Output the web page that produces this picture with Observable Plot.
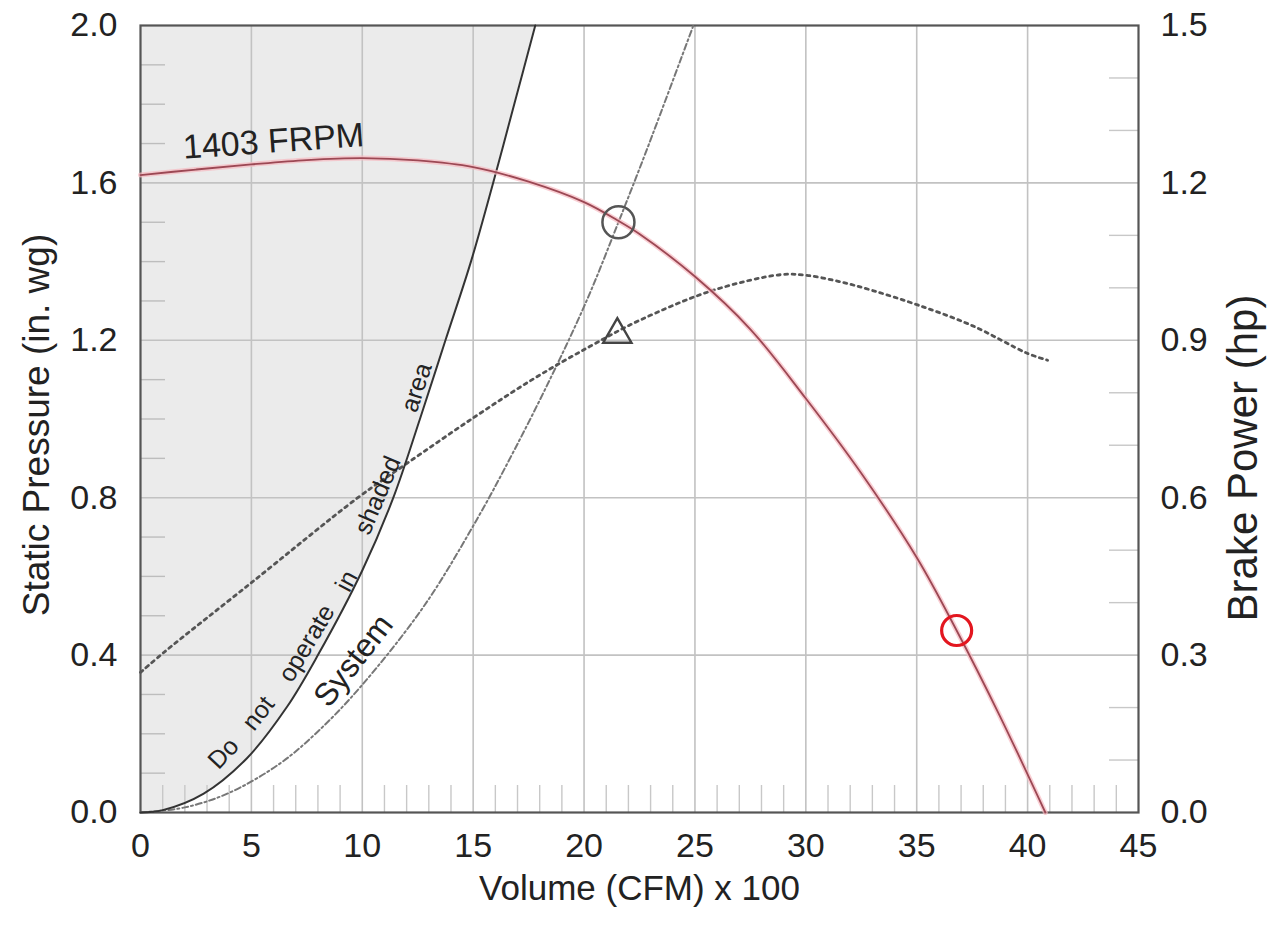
<!DOCTYPE html>
<html>
<head>
<meta charset="utf-8">
<script src="https://cdn.jsdelivr.net/npm/d3@7"></script>
<script src="https://cdn.jsdelivr.net/npm/@observablehq/plot@0.6"></script>
<style>
  html, body { margin: 0; padding: 0; background: #fff; }
  #chart { width: 1281px; height: 926px; }
</style>
</head>
<body>
<div id="chart"></div>
<script>
// ---- tick values & labels ----
const xTicks = [0, 5, 10, 15, 20, 25, 30, 35, 40, 45];
const xTickLabels = ["0", "5", "10", "15", "20", "25", "30", "35", "40", "45"];
const xGrid = [5, 10, 15, 20, 25, 30, 35, 40];
const xMinor = [1,2,3,4,6,7,8,9,11,12,13,14,16,17,18,19,21,22,23,24,26,27,28,29,31,32,33,34,36,37,38,39,41,42,43,44];

const pTicks = [0, 0.4, 0.8, 1.2, 1.6, 2.0];
const pTickLabels = ["0.0", "0.4", "0.8", "1.2", "1.6", "2.0"];
const pGrid = [0.4, 0.8, 1.2, 1.6];
const pMinor = [0.1,0.2,0.3,0.5,0.6,0.7,0.9,1.0,1.1,1.3,1.4,1.5,1.7,1.8,1.9];

const hpTicks = [0, 0.3, 0.6, 0.9, 1.2, 1.5];
const hpTickLabels = ["0.0", "0.3", "0.6", "0.9", "1.2", "1.5"];
const hpMinor = [0.1,0.2,0.4,0.5,0.7,0.8,1.0,1.1,1.3,1.4];

const pMax = 2.0, hpMax = 1.5;   // left and right axis tops
const hpToP = hp => hp * pMax / hpMax;

// ---- series (volume in CFM x 100) ----
// Fan curve, 1403 FRPM: static pressure (in. wg)
const fanX = [0, 2.5, 5, 7.5, 10, 12.5, 15, 17.5, 20, 21.5, 22.5, 25, 27.5, 30, 32.5, 35, 36.8, 38.75, 40.8];
const fanP = [1.62, 1.634, 1.647, 1.658, 1.663, 1.657, 1.640, 1.603, 1.551, 1.505, 1.47, 1.362, 1.228, 1.052, 0.862, 0.648, 0.4625, 0.245, 0.0];

// "Do not operate" boundary (stall line): static pressure
const stallX = [0, 1, 2.85, 4.8, 6.6, 8.0, 10.0, 11.4, 12.6, 13.75, 14.9, 15.9, 16.9, 17.8];
const stallP = [0, 0.006, 0.048, 0.138, 0.268, 0.40, 0.615, 0.8, 1.0, 1.2, 1.4, 1.6, 1.81, 2.0];

// System curve: static pressure
const sysX = [0, 2, 4, 6.3, 8, 9.9, 12.8, 15.2, 16.8, 18.5, 20.15, 21.55, 22.8, 24.93];
const sysP = [0, 0.013, 0.05, 0.125, 0.206, 0.318, 0.526, 0.748, 0.915, 1.105, 1.305, 1.5, 1.68, 2.0];

// Brake power (hp)
const bhpX = [0, 1.05, 5, 9.8, 12, 15, 17.7, 20.25, 22.5, 25.8, 28.85, 30, 31.5, 33, 35, 37.5, 40, 40.9];
const bhpHp = [0.267, 0.305, 0.438, 0.6, 0.665, 0.752, 0.826, 0.888, 0.938, 0.995, 1.025, 1.024, 1.012, 0.995, 0.968, 0.928, 0.875, 0.862];

// Operating point markers
const opPoint = [{x: 21.55, p: 1.5}];
const opBhp = [{x: 21.5, hp: 0.911}];
const redPoint = [{x: 36.8, p: 0.4625}];

// In-plot labels
const stallWords = ["Do", "not", "operate", "in", "shaded", "area"];
const stallWordX = [3.74, 5.32, 7.5, 9.3, 10.7, 12.45];
const stallWordP = [0.150, 0.252, 0.43, 0.588, 0.806, 1.08];
const stallWordAngle = [-47, -52, -59, -62, -67, -72];

const curveLabels = [
  {text: "1403 FRPM", x: 6.0, p: 1.705, angle: -4, size: 34},
  {text: "System", x: 9.6, p: 0.386, angle: -52, size: 32}
];

const xTitle = "Volume (CFM) x 100";
const yTitle = "Static Pressure (in. wg)";
const y2Title = "Brake Power (hp)";

// ---- build tables ----
const zip = (xs, ys, key) => xs.map((x, i) => ({x, [key]: ys[i]}));
const fan = zip(fanX, fanP, "p");
const stall = zip(stallX, stallP, "p");
const sys = zip(sysX, sysP, "p");
const bhp = zip(bhpX, bhpHp, "hp");
const stallLabelRows = stallWords.map((t, i) => ({text: t, x: stallWordX[i], p: stallWordP[i], angle: stallWordAngle[i]}));
const xTickRows = xTicks.map((v, i) => ({v, label: xTickLabels[i]}));
const pTickRows = pTicks.map((v, i) => ({v, label: pTickLabels[i]}));
const hpTickRows = hpTicks.map((v, i) => ({v, label: hpTickLabels[i]}));

const W = 1281, H = 926;
const mL = 140, mR = 143, mT = 25, mB = 114;
const innerW = W - mL - mR, innerH = H - mT - mB;
const font = "'Liberation Sans', Arial, Helvetica, sans-serif";
const ink = "#222";
const gridColor = "#c2c2c2";

const chart = Plot.plot({
  width: W,
  height: H,
  marginLeft: mL, marginRight: mR, marginTop: mT, marginBottom: mB,
  style: {fontFamily: font, fontSize: "34px", background: "#fff", color: ink, overflow: "visible"},
  x: {domain: [0, 45], axis: null},
  y: {domain: [0, pMax], axis: null},
  marks: [
    // shaded "do not operate" region
    Plot.areaX(stall, {y: "p", x1: 0, x2: "x", fill: "#ebebeb", curve: "catmull-rom"}),
    // grid
    Plot.ruleX(xGrid, {stroke: gridColor, strokeWidth: 1.6}),
    Plot.ruleY(pGrid, {stroke: gridColor, strokeWidth: 1.6}),
    // minor ticks inside the frame
    Plot.tickX(xMinor, {x: d => d, stroke: "#c8c8c8", strokeWidth: 1.4, insetTop: innerH - 27}),
    Plot.tickY(pMinor, {y: d => d, stroke: "#bdbdbd", strokeWidth: 1.4, insetRight: innerW - 25}),
    Plot.tickY(hpMinor, {y: d => hpToP(d), stroke: "#c8c8c8", strokeWidth: 1.4, insetLeft: innerW - 29}),
    Plot.frame({stroke: "#555", strokeWidth: 2.2}),
    // system curve (dash-dot)
    Plot.line(sys, {x: "x", y: "p", stroke: "#777", strokeWidth: 2, strokeDasharray: "6,3,2,3", curve: "catmull-rom"}),
    // brake power (dotted)
    Plot.line(bhp, {x: "x", y: d => hpToP(d.hp), stroke: "#555", strokeWidth: 2.8, strokeDasharray: "3,4.5", curve: "catmull-rom"}),
    // stall line (solid)
    Plot.line(stall, {x: "x", y: "p", stroke: "#333", strokeWidth: 2, curve: "catmull-rom"}),
    // fan curve
    Plot.line(fan, {x: "x", y: "p", stroke: "#f6b9c1", strokeWidth: 5, strokeOpacity: 0.7, curve: "catmull-rom"}),
    Plot.line(fan, {x: "x", y: "p", stroke: "#9c4854", strokeWidth: 1.8, curve: "catmull-rom"}),
    // markers
    Plot.dot(opPoint, {x: "x", y: "p", r: 16, stroke: "#555", strokeWidth: 2.5, fill: "none"}),
    Plot.dot(opBhp, {x: "x", y: d => hpToP(d.hp), r: 10.5, symbol: "triangle", stroke: "#444", strokeWidth: 2.4, fill: "none"}),
    Plot.dot(redPoint, {x: "x", y: "p", r: 15, stroke: "#e3161f", strokeWidth: 3.2, fill: "none"}),
    // in-plot labels
    Plot.text(stallLabelRows, {x: "x", y: "p", text: "text", rotate: "angle", fontSize: 25, fill: ink, fontFamily: font}),
    Plot.text(curveLabels, {x: "x", y: "p", text: "text", rotate: "angle", fontSize: d => d.size, fill: ink, fontFamily: font}),
    // tick labels
    Plot.text(xTickRows, {x: "v", text: "label", frameAnchor: "bottom", dy: 44, fontSize: 34, fill: ink, fontFamily: font}),
    Plot.text(pTickRows, {y: "v", text: "label", frameAnchor: "left", textAnchor: "end", dx: -23, fontSize: 34, fill: ink, fontFamily: font}),
    Plot.text(hpTickRows, {y: d => hpToP(d.v), text: "label", frameAnchor: "right", textAnchor: "start", dx: 22, fontSize: 34, fill: ink, fontFamily: font}),
    // axis titles
    Plot.text([xTitle], {text: d => d, frameAnchor: "bottom", textAnchor: "middle", dy: 87, fontSize: 35, fill: ink, fontFamily: font}),
    Plot.text([yTitle], {text: d => d, frameAnchor: "left", textAnchor: "middle", dx: -103, dy: 6, rotate: -90, fontSize: 37, fill: ink, fontFamily: font}),
    Plot.text([y2Title], {text: d => d, frameAnchor: "right", textAnchor: "middle", dx: 105, dy: 39, rotate: -90, fontSize: 42, fill: ink, fontFamily: font})
  ]
});
document.getElementById("chart").appendChild(chart);
</script>
</body>
</html>
